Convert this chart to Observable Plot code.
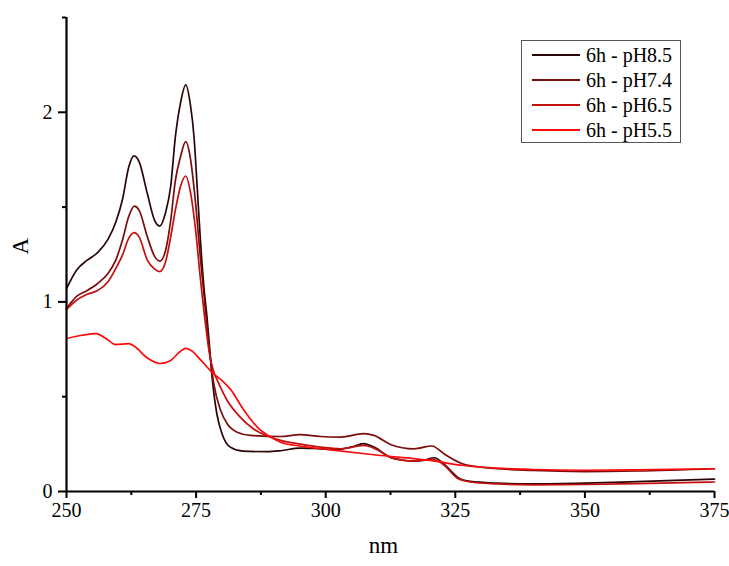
<!DOCTYPE html>
<html>
<head>
<meta charset="utf-8">
<script src="https://cdn.jsdelivr.net/npm/d3@7"></script>
<script src="https://cdn.jsdelivr.net/npm/@observablehq/plot@0.6"></script>
<style>
  html, body { margin: 0; padding: 0; background: #fff; }
  #wrap { position: relative; width: 729px; height: 566px; font-family: "Liberation Serif", Tinos, "Times New Roman", Times, "DejaVu Serif", serif; }
  #wrap svg text { font-family: "Liberation Serif", Tinos, "Times New Roman", Times, "DejaVu Serif", serif; }
  #legend { position: absolute; left: 521px; top: 40px; width: 160px; height: 103px; border: 1px solid #555; background: #fff; box-sizing: border-box; }
  .item { position: absolute; left: 10px; height: 20px; display: flex; align-items: center; font-size: 20px; color: #000; white-space: nowrap; }
  .item svg { margin-right: 6px; }
</style>
</head>
<body>
<div id="wrap"><div id="legend"></div></div>
<script>
const seriesNames = ["6h - pH8.5", "6h - pH7.4", "6h - pH6.5", "6h - pH5.5"];
const seriesColors = ["#2a0606", "#7a0c0c", "#c40f0f", "#ff0a0a"];

const nm85 = [250, 252, 254, 256, 258, 259.5, 260.8, 262, 263, 264, 265.6, 267, 268, 269.1, 270.1, 271, 272, 273, 273.9, 274.6, 275.2, 275.8, 276.5, 277.1, 277.6, 278.1, 279, 280, 281.6, 284, 288.7, 291.3, 295, 299, 302.2, 305, 307.3, 309.3, 312.5, 315, 317, 319, 320.9, 322.8, 325.4, 327.9, 333, 340, 350, 360, 375];
const a85  = [1.07, 1.17, 1.22, 1.26, 1.33, 1.42, 1.54, 1.71, 1.77, 1.74, 1.57, 1.43, 1.40, 1.47, 1.61, 1.87, 2.05, 2.145, 2.04, 1.87, 1.61, 1.34, 1.08, 0.92, 0.76, 0.60, 0.41, 0.305, 0.234, 0.213, 0.21, 0.215, 0.229, 0.225, 0.222, 0.235, 0.252, 0.234, 0.18, 0.165, 0.16, 0.165, 0.178, 0.146, 0.076, 0.053, 0.044, 0.040, 0.044, 0.052, 0.065];

const nm74 = [250, 252, 254, 256, 258, 259.5, 260.8, 262, 263.1, 264, 265.6, 267, 268, 269.1, 270.1, 271, 272, 273, 273.9, 274.9, 275.8, 276.8, 277.5, 278.4, 279.7, 281, 282.9, 285.5, 291.3, 295, 299, 302.9, 307.3, 309.3, 312.5, 317, 320.5, 322.8, 326, 330, 340, 350, 360, 375];
const a74  = [0.965, 1.03, 1.06, 1.097, 1.15, 1.22, 1.326, 1.45, 1.505, 1.484, 1.343, 1.24, 1.215, 1.27, 1.43, 1.64, 1.766, 1.845, 1.757, 1.52, 1.24, 0.956, 0.76, 0.57, 0.43, 0.357, 0.313, 0.296, 0.29, 0.30, 0.29, 0.287, 0.305, 0.296, 0.248, 0.225, 0.24, 0.199, 0.15, 0.128, 0.111, 0.105, 0.108, 0.12];

const nm65 = [250, 252, 254, 256, 258, 259.5, 260.8, 262, 263.1, 264, 265.6, 267, 268, 269.1, 270.1, 271, 272, 273, 273.9, 274.9, 275.8, 276.8, 277.5, 278.4, 279.1, 281, 283.6, 286.1, 289, 291.3, 295.1, 299, 302.9, 307.3, 309.3, 312.5, 317, 320.5, 322.8, 325.4, 328, 333, 340, 350, 360, 375];
const a65  = [0.96, 1.01, 1.04, 1.06, 1.106, 1.176, 1.247, 1.335, 1.365, 1.343, 1.22, 1.173, 1.16, 1.21, 1.343, 1.484, 1.61, 1.664, 1.58, 1.38, 1.13, 0.886, 0.74, 0.63, 0.586, 0.48, 0.39, 0.33, 0.29, 0.27, 0.25, 0.234, 0.225, 0.243, 0.229, 0.18, 0.16, 0.17, 0.14, 0.07, 0.05, 0.04, 0.035, 0.037, 0.042, 0.05];

const nm55 = [250, 253, 255.7, 257.6, 259.5, 262, 263.1, 265.6, 268, 270, 272, 273, 274, 276, 278.4, 280, 281.6, 284.2, 286.8, 289.4, 291.3, 295, 300.9, 310.6, 320.2, 326.6, 333.1, 340, 350, 360, 375];
const a55  = [0.807, 0.824, 0.833, 0.807, 0.775, 0.78, 0.766, 0.704, 0.675, 0.69, 0.74, 0.755, 0.745, 0.69, 0.62, 0.585, 0.54, 0.43, 0.34, 0.287, 0.26, 0.24, 0.22, 0.19, 0.164, 0.137, 0.123, 0.116, 0.112, 0.114, 0.12];

const xMajor = [250, 275, 300, 325, 350, 375];
const xMinor = [262.5, 287.5, 312.5, 337.5, 362.5];
const yMajor = [0, 1, 2];
const yMinor = [0.5, 1.5, 2.5];

const xs = [nm85, nm74, nm65, nm55];
const ys = [a85, a74, a65, a55];
const rows = [];
seriesNames.forEach((s, i) => xs[i].forEach((x, j) => rows.push({series: s, nm: x, A: ys[i][j]})));

const serif = '"Liberation Serif", Tinos, "Times New Roman", Times, "DejaVu Serif", serif';

const chart = Plot.plot({
  width: 729,
  height: 566,
  marginLeft: 66,
  marginRight: 15,
  marginTop: 17,
  marginBottom: 75,
  style: {fontFamily: serif, fontSize: "20px", color: "#000", background: "transparent"},
  x: {domain: [250, 375]},
  y: {domain: [0, 2.5]},
  color: {domain: seriesNames, range: seriesColors},
  marks: [
    Plot.line(rows, {x: "nm", y: "A", z: "series", stroke: "series", strokeWidth: 1.7, curve: "monotone-x"}),
    Plot.axisX({ticks: xMinor, tickSize: 4, tickFormat: () => "", strokeWidth: 2, label: null}),
    Plot.axisX({ticks: xMajor, tickSize: 7, tickPadding: 4, tickFormat: d => String(d), strokeWidth: 2, fontSize: 20, label: null}),
    Plot.axisY({ticks: yMinor, tickSize: 4, tickFormat: () => "", strokeWidth: 2, label: null}),
    Plot.axisY({ticks: yMajor, tickSize: 8, tickPadding: 6, tickFormat: d => String(d), strokeWidth: 2, fontSize: 20, label: null}),
    Plot.ruleX([250], {y1: 0, y2: 2.5, strokeWidth: 2.2}),
    Plot.ruleY([0], {x1: 250, x2: 375, strokeWidth: 2.2}),
    Plot.text(["A"], {frameAnchor: "left", dx: -46, rotate: -90, fontSize: 23}),
    Plot.text(["nm"], {frameAnchor: "bottom", dy: 61, dx: -7, fontSize: 23})
  ]
});
document.getElementById("wrap").prepend(chart);

const legend = document.getElementById("legend");
seriesNames.forEach((s, i) => {
  const d = document.createElement("div");
  d.className = "item";
  d.style.top = (4 + i * 25) + "px";
  d.innerHTML = `<svg width="48" height="4"><line x1="0" y1="2" x2="48" y2="2" stroke="${seriesColors[i]}" stroke-width="2"/></svg><span>${s}</span>`;
  legend.appendChild(d);
});
</script>
</body>
</html>
